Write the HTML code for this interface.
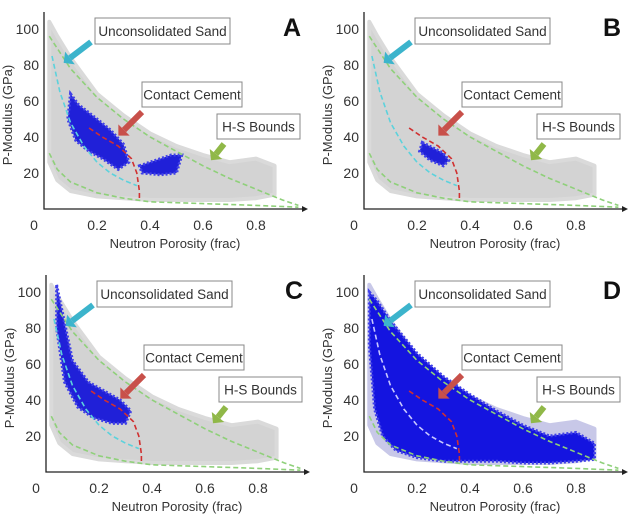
<!DOCTYPE html>
<html><head><meta charset="utf-8"><style>
body{margin:0;background:#fff}
svg{display:block;font-family:"Liberation Sans",sans-serif}
</style></head><body>
<svg id="fig" width="640" height="524" viewBox="0 0 640 524"></svg>
<script>
// shared data (porosity frac, P-modulus GPa)
const cloudPor   = [0.02,0.05,0.1,0.2,0.3,0.4,0.5,0.6,0.7,0.8,0.87,0.87,0.8,0.7,0.6,0.5,0.4,0.3,0.2,0.1,0.05,0.02];
const cloudMod   = [104,96,84,64,52,42,35,30,26,28,24,8,6,5,5,5,5,6,7,10,16,26];
const hsUpperPor = [0.02,0.1,0.2,0.3,0.4,0.5,0.6,0.7,0.8,0.9,0.96];
const hsUpperMod = [96,78,62,50,40,32,24,17,11,5,2];
const hsLowerPor = [0.02,0.05,0.1,0.2,0.3,0.4,0.6,0.8,0.96];
const hsLowerMod = [31,22,15,9,6,4,3,2,1];
const sandPor    = [0.03,0.06,0.1,0.15,0.2,0.25,0.3,0.35];
const sandMod    = [85,65,48,35,26,20,16,13];
const cementPor  = [0.17,0.22,0.28,0.33,0.35,0.36,0.36];
const cementMod  = [45,40,35,28,20,10,5];
// blue clusters per panel (polygon of porosity/modulus)
const bluePorA = [0.1,0.13,0.2,0.25,0.3,0.32,0.28,0.22,0.17,0.12,0.09];
const blueModA = [64,58,50,44,36,26,22,28,32,38,50];
const blue2PorA = [0.36,0.42,0.48,0.52,0.5,0.44,0.37];
const blue2ModA = [24,27,30,30,20,19,20];
const bluePorB = [0.22,0.26,0.3,0.32,0.3,0.25,0.21];
const blueModB = [37,34,31,27,24,27,32];
const bluePorC = [0.04,0.07,0.1,0.16,0.22,0.28,0.32,0.3,0.25,0.18,0.12,0.07,0.04];
const blueModC = [104,83,62,50,45,40,34,27,27,30,36,50,80];
const bluePorD = [0.02,0.05,0.1,0.2,0.3,0.4,0.5,0.6,0.7,0.8,0.87,0.87,0.8,0.7,0.6,0.5,0.4,0.3,0.2,0.12,0.07,0.04,0.02];
const blueModD = [100,95,84,66,53,43,34,26,20,22,16,7,6,5,5,6,6,6,8,12,20,35,70];
const xTicks = [0,0.2,0.4,0.6,0.8];
const xTickLabels = ["0","0.2","0.4","0.6","0.8"];
const yTicks = [20,40,60,80,100];
const panels = [
 {id:"A",ox:0,oy:0,blue:[[bluePorA,blueModA],[blue2PorA,blue2ModA]],dense:false},
 {id:"B",ox:320,oy:0,blue:[[bluePorB,blueModB]],dense:false},
 {id:"C",ox:2,oy:263,blue:[[bluePorC,blueModC]],dense:false},
 {id:"D",ox:320,oy:263,blue:[[bluePorD,blueModD]],dense:true}
];
const NS="http://www.w3.org/2000/svg";
const svg=document.getElementById('fig');
function mk(tag,attrs,parent){const e=document.createElementNS(NS,tag);for(const k in attrs)e.setAttribute(k,attrs[k]);(parent||svg).appendChild(e);return e;}
panels.forEach(p=>{
  const g=mk('g',{});
  
  
  const X=v=>p.ox+44+v*265, Y=v=>p.oy+209-v*1.8;
  const pts=(a,b)=>a.map((v,i)=>X(v).toFixed(1)+','+Y(b[i]).toFixed(1)).join(' ');
  const cloud=mk('polygon',{points:pts(cloudPor,cloudMod),fill:p.dense?'#c8c8e8':'#d3d3d3',stroke:p.dense?'#c8c8e8':'#dadada','stroke-width':4,'stroke-linejoin':'round'},g);
  
  
  p.blue.forEach(b=>{
    const poly=mk('polygon',{points:pts(b[0],b[1]),fill:p.dense?'#1414e0':'#2020d8',stroke:'#4040e8','stroke-width':3,'stroke-dasharray':'2 2'},g);
    
    
  });
  const curves=[[hsUpperPor,hsUpperMod,'#8fd07a','hs-upper-bound'],[hsLowerPor,hsLowerMod,'#8fd07a','hs-lower-bound'],[sandPor,sandMod,p.dense?'#c8c8ff':'#5cd2dc','unconsolidated-sand-curve'],[cementPor,cementMod,'#d03030','contact-cement-curve']];
  curves.forEach(c=>{
    const pl=mk('polyline',{points:pts(c[0],c[1]),fill:'none',stroke:c[2],'stroke-width':1.6,'stroke-dasharray':'5 3'},g);
    
    
  });
  const ax=mk('path',{d:`M${X(0)},${p.oy+12} L${X(0)},${Y(0)} L${p.ox+305},${Y(0)}`,fill:'none',stroke:'#222','stroke-width':1.3},g);
  
  
  mk('polygon',{points:`${p.ox+308},${Y(0)} ${p.ox+302},${Y(0)-3} ${p.ox+302},${Y(0)+3}`,fill:'#222'},g);
  xTicks.forEach((v,i)=>{
    const t=mk('text',{x:X(v)-(i===0?10:0),y:Y(0)+21,'font-size':14,'text-anchor':'middle',fill:'#333'},g);
    t.textContent=xTickLabels[i];
    
    
  });
  yTicks.forEach(v=>{
    const t=mk('text',{x:X(0)-5,y:Y(v)+5,'font-size':14,'text-anchor':'end',fill:'#333'},g);
    t.textContent=v;
    
    
  });
  const xt=mk('text',{x:p.ox+175,y:p.oy+248,'font-size':13,'text-anchor':'middle',fill:'#333'},g);
  xt.textContent='Neutron Porosity (frac)';
  
  
  const yt=mk('text',{x:0,y:0,'font-size':13,'text-anchor':'middle',fill:'#333',transform:`translate(${p.ox+12},${p.oy+115}) rotate(-90)`},g);
  yt.textContent='P-Modulus (GPa)';
  
  
  const arr=(x1,y1,x2,y2,col,name)=>{
    const a=mk('line',{x1:p.ox+x1,y1:p.oy+y1,x2:p.ox+x2,y2:p.oy+y2,stroke:col,'stroke-width':6},g);
    
    
    const dx=x2-x1,dy=y2-y1,L=Math.hypot(dx,dy),ux=dx/L,uy=dy/L;
    const tx=p.ox+x2+ux*8,ty=p.oy+y2+uy*8;
    mk('polygon',{points:`${tx},${ty} ${p.ox+x2-uy*8},${p.oy+y2+ux*8} ${p.ox+x2+uy*8},${p.oy+y2-ux*8}`,fill:col},g);
  };
  arr(91,42,70,58,'#3cb4cc','sand-arrow');
  arr(142,112,124,130,'#c8504a','cement-arrow');
  arr(224,144,216,154,'#90b848','hs-arrow');
  const box=(x,y,w,h,txt,name)=>{
    const r=mk('rect',{x:p.ox+x,y:p.oy+y,width:w,height:h,fill:'#fff',stroke:'#888','stroke-width':1},g);
    
    
    const t=mk('text',{x:p.ox+x+w/2,y:p.oy+y+h/2+5,'font-size':13.5,'text-anchor':'middle',fill:'#333'},g);
    t.textContent=txt;
    
    
  };
  box(95,18,135,26,'Unconsolidated Sand','unconsolidated-sand');
  box(142,82,100,25,'Contact Cement','contact-cement');
  box(217,114,83,25,'H-S Bounds','hs-bounds');
  const L=mk('text',{x:p.ox+292,y:p.oy+36,'font-size':25,'font-weight':'bold','text-anchor':'middle',fill:'#111'},g);
  L.textContent=p.id;
  
  
});
</script>
</body></html>
